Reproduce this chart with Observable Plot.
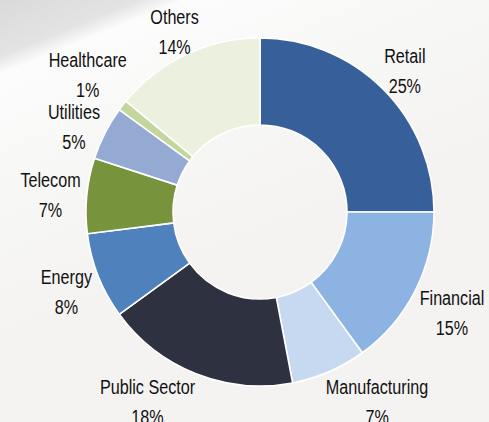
<!DOCTYPE html>
<html>
<head>
<meta charset="utf-8">
<script src="https://cdn.jsdelivr.net/npm/d3@7"></script>
<script src="https://cdn.jsdelivr.net/npm/@observablehq/plot@0.6"></script>
<style>
html, body { margin: 0; padding: 0; }
body {
  width: 489px; height: 422px; overflow: hidden;
  background: linear-gradient(158deg, #dadada 0%, #e3e3e3 9%, #fcfcfc 12%, #f8f8f7 28%, #f4f3f1 55%, #f4f3f1 100%);
}
#chart svg { display: block; }
</style>
</head>
<body>
<div id="chart"></div>
<script>
const sectors = ["Retail", "Financial", "Manufacturing", "Public Sector", "Energy", "Telecom", "Utilities", "Healthcare", "Others"];
const shares = [25, 15, 7, 18, 8, 7, 5, 1, 14];
const colors = ["#37609a", "#8db3e2", "#c6d9f1", "#2e3140", "#4f81bd", "#77933c", "#95aad3", "#c3d69b", "#ebf1de"];

const W = 489, H = 422;
const cx = 260, cy = 212, outerR = 174, innerR = 87;
const fontSize = 21, squeeze = 0.77, lineH = 30, capH = 15;
const fontFamily = "'Liberation Sans', Arial, sans-serif";
const labelGap = 180;   // distance from centre to nearest point of a label box
const boxH = 27;        // effective label box height used for the ring clearance
const minSep = 52;      // minimum vertical spacing between stacked labels
const edgePad = 23;     // keep label block centres this far from the bottom edge
const ringClear = 177;  // clearance used when a clamped label slides sideways

const rows = sectors.map((s, i) => ({sector: s, share: shares[i]}));
const slices = d3.pie().sort(null).value(d => d.share)(rows);
const mid = d => (d.startAngle + d.endAngle) / 2;
const labelText = d => `${d.data.sector}\n${d.data.share}%`;

// measure label blocks and place them just outside the ring along the slice's mid angle
const ctx = document.createElement("canvas").getContext("2d");
ctx.font = `${fontSize}px ${fontFamily}`;
function placeLabel(d) {
  const lines = labelText(d).split("\n");
  const w = Math.max(...lines.map(l => ctx.measureText(l).width)) * squeeze;
  const ux = Math.sin(mid(d)), uy = -Math.cos(mid(d));
  const near = t => {
    const px = t * ux, py = t * uy;
    const nx = Math.abs(px) <= w / 2 ? 0 : Math.abs(px) - w / 2;
    const ny = Math.abs(py) <= boxH / 2 ? 0 : Math.abs(py) - boxH / 2;
    return Math.hypot(nx, ny);
  };
  let lo = 0, hi = 500;
  for (let k = 0; k < 60; k++) {
    const m = (lo + hi) / 2;
    if (near(m) < labelGap) lo = m; else hi = m;
  }
  let x = cx + lo * ux, y = cy + lo * uy;
  if (y > H - edgePad) {
    // clamped at the bottom edge: slide sideways until the whole block clears the ring
    y = H - edgePad;
    const dyEdge = Math.max(0, Math.abs(y - cy) - (lineH + capH) / 2);
    const dxNeed = Math.sqrt(Math.max(0, ringClear * ringClear - dyEdge * dyEdge));
    const s = Math.sign(ux) || 1;
    const xOut = cx + s * (dxNeed + w / 2);
    if (s * (xOut - x) > 0) x = xOut;
  }
  return {x, y, w};
}
const labelPos = slices.map(placeLabel);

// simple collision pass: spread labels that overlap vertically
for (let iter = 0; iter < 30; iter++) {
  const order = labelPos.map((p, i) => i).sort((a, b) => labelPos[a].y - labelPos[b].y);
  for (let k = 0; k < order.length; k++) {
    for (let j = k + 1; j < order.length; j++) {
      const a = labelPos[order[k]], b = labelPos[order[j]];
      if (Math.abs(a.x - b.x) >= (a.w + b.w) / 2) continue;
      const gap = b.y - a.y;
      if (gap < minSep) {
        const shift = (minSep - gap) / 2;
        a.y -= shift; b.y += shift;
      }
    }
  }
}

const arcGen = d3.arc().innerRadius(innerR).outerRadius(outerR);

const donut = Plot.dot(slices, {
  x: () => cx,
  y: () => cy,
  fill: d => d.data.sector,
  render(index, scales, values) {
    const g = d3.create("svg:g");
    for (const i of index) {
      g.append("path")
        .attr("transform", `translate(${values.x[i]},${values.y[i]})`)
        .attr("d", arcGen(slices[i]))
        .attr("fill", values.fill[i])
        .attr("stroke", "#ffffff")
        .attr("stroke-width", 1.6)
        .attr("stroke-linejoin", "round");
    }
    return g.node();
  }
});

const labels = Plot.text(slices, {
  x: (d, i) => labelPos[i].x,
  y: (d, i) => labelPos[i].y,
  text: labelText,
  lineHeight: lineH / fontSize,
  fontSize: fontSize,
  fill: "#111111",
  textAnchor: "middle"
});

const chart = Plot.plot({
  width: W,
  height: H,
  margin: 0,
  style: {background: "transparent", fontFamily: fontFamily},
  x: {domain: [0, W], range: [0, W], axis: null},
  y: {domain: [0, H], range: [0, H], axis: null},
  color: {domain: sectors, range: colors},
  marks: [donut, labels]
});

// condensed lettering: compress each label horizontally about its own anchor
d3.select(chart).selectAll("text").each(function () {
  const t = d3.select(this);
  const x = +t.attr("x") || 0, y = +t.attr("y") || 0;
  const tr = t.attr("transform") || "";
  t.attr("x", null).attr("y", null)
   .attr("transform", `${tr} translate(${x},${y}) scale(${squeeze},1)`);
});

document.getElementById("chart").appendChild(chart);
</script>
</body>
</html>
